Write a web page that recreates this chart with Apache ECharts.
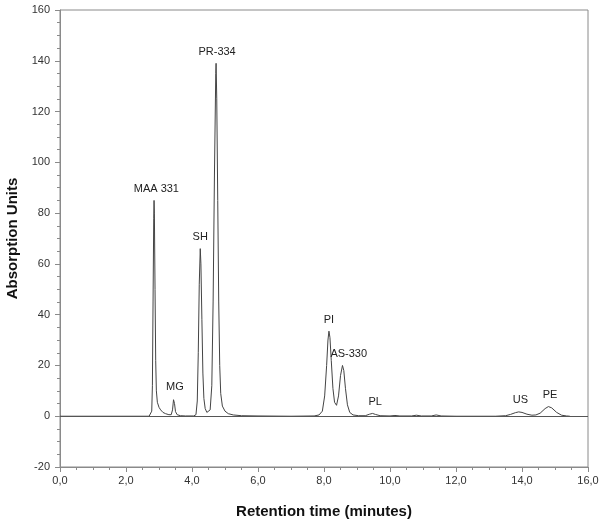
<!DOCTYPE html>
<html>
<head>
<meta charset="utf-8">
<script src="https://cdn.jsdelivr.net/npm/echarts@6/dist/echarts.min.js"></script>
<style>
  html, body { margin: 0; padding: 0; background: #fff; }
  #chart { width: 600px; height: 522px; }
</style>
</head>
<body>
<div id="chart"></div>
<script>
// retention time (min) / absorption
const times = [
  0.00, 2.70, 2.76, 2.78, 2.80, 2.82, 2.84, 2.85, 2.86, 2.88, 2.90, 2.92, 2.95, 3.00, 3.05, 3.12,
  3.20, 3.30, 3.37, 3.41, 3.44, 3.45, 3.47, 3.50, 3.55, 3.65, 3.80, 4.05, 4.12, 4.16, 4.19, 4.22,
  4.25, 4.27, 4.30, 4.33, 4.36, 4.40, 4.45, 4.50, 4.55, 4.60, 4.64, 4.68, 4.72, 4.73, 4.75, 4.78,
  4.81, 4.84, 4.87, 4.92, 5.00, 5.10, 5.25, 5.50, 6.00, 7.00, 7.70, 7.85, 7.95, 8.02, 8.08, 8.12,
  8.15, 8.18, 8.22, 8.27, 8.32, 8.38, 8.44, 8.50, 8.56, 8.60, 8.65, 8.71, 8.78, 8.88, 9.05, 9.25,
  9.38, 9.47, 9.56, 9.70, 10.00, 10.15, 10.30, 10.65, 10.80, 10.95, 11.25, 11.40, 11.55, 12.00, 13.20, 13.50,
  13.65, 13.80, 13.90, 14.00, 14.15, 14.30, 14.42, 14.55, 14.70, 14.80, 14.90, 15.05, 15.20, 15.35, 15.45
]
const absorption = [
  0, 0, 0.2, 2, 12, 45, 78, 85, 80, 50, 22, 10, 5.5, 3.5, 2.5, 1.5,
  1.0, 0.6, 0.6, 2.5, 6.5, 7, 5, 1.8, 0.6, 0.2, 0.1, 0.1, 0.6, 6, 25, 52,
  66, 60, 38, 17, 7, 3, 1.5, 1.2, 2.5, 12, 45, 95, 135, 139, 125, 85,
  45, 20, 9, 4, 2, 1, 0.5, 0.2, 0.1, 0, 0.1, 0.5, 2, 8, 20, 30,
  33.5, 31, 22, 11, 5.5, 4.3, 8, 16, 20, 18, 11, 4.5, 1.5, 0.5, 0.2, 0.2,
  0.8, 1.1, 0.7, 0.2, 0.1, 0.3, 0.1, 0.1, 0.4, 0.1, 0.1, 0.5, 0.1, 0, 0, 0.2,
  0.7, 1.4, 1.7, 1.5, 0.8, 0.4, 0.5, 1.2, 3.0, 3.8, 3.3, 1.5, 0.4, 0.1, 0
]

// peak annotations
const peakNames = ['MAA 331', 'MG', 'SH', 'PR-334', 'PI', 'AS-330', 'PL', 'US', 'PE']
const peakTimes = [2.92, 3.48, 4.25, 4.76, 8.15, 8.75, 9.55, 13.95, 14.85]
const peakHeights = [85, 7, 66, 139, 33.5, 20, 1.1, 1.7, 3.8]

const chart = echarts.init(document.getElementById('chart'), null, { renderer: 'canvas' })

const FONT = '"Liberation Sans", Arial, sans-serif'
const AXIS_COLOR = '#8a8a8a'
const fmt = v => v.toFixed(1).replace('.', ',')

chart.setOption({
  animation: false,
  backgroundColor: '#fff',
  textStyle: { fontFamily: FONT },
  grid: {
    left: 60, right: 12, top: 10, bottom: 55,
    outerBoundsMode: 'none',
    containLabel: false,
    show: true, borderColor: AXIS_COLOR, borderWidth: 1,
  },
  xAxis: {
    type: 'value',
    min: 0, max: 16, interval: 2,
    name: 'Retention time (minutes)',
    nameLocation: 'middle',
    nameGap: 37,
    nameTextStyle: { fontSize: 15, fontWeight: 'bold', color: '#111', fontFamily: FONT },
    axisLine: { onZero: false, lineStyle: { color: AXIS_COLOR } },
    axisTick: { length: 5, lineStyle: { color: AXIS_COLOR } },
    minorTick: { show: true, splitNumber: 4, length: 3, lineStyle: { color: AXIS_COLOR } },
    axisLabel: { formatter: fmt, color: '#333', fontSize: 11, margin: 8, fontFamily: FONT },
    splitLine: { show: false },
  },
  yAxis: {
    type: 'value',
    min: -20, max: 160, interval: 20,
    name: 'Absorption Units',
    nameLocation: 'middle',
    nameGap: 39,
    nameTextStyle: { fontSize: 15, fontWeight: 'bold', color: '#111', fontFamily: FONT },
    axisLine: { show: true, onZero: false, lineStyle: { color: AXIS_COLOR } },
    axisTick: { show: true, length: 5, lineStyle: { color: AXIS_COLOR } },
    minorTick: { show: true, splitNumber: 4, length: 3, lineStyle: { color: AXIS_COLOR } },
    axisLabel: { color: '#333', fontSize: 11, margin: 10, fontFamily: FONT },
    splitLine: { show: false },
  },
  series: [{
    type: 'line',
    data: times.map((t, i) => [t, absorption[i]]),
    showSymbol: false,
    lineStyle: { color: '#444', width: 1 },
    markLine: {
      silent: true,
      symbol: 'none',
      label: { show: false },
      lineStyle: { color: '#555', width: 1, type: 'solid' },
      data: [{ yAxis: 0 }],
    },
    markPoint: {
      symbol: 'circle',
      symbolSize: 0,
      label: {
        show: true,
        position: 'top',
        distance: 6,
        color: '#222',
        fontSize: 11,
        fontFamily: FONT,
        formatter: p => p.name,
      },
      data: peakNames.map((n, i) => ({ name: n, coord: [peakTimes[i], peakHeights[i]] })),
    },
  }],
})
</script>
</body>
</html>
